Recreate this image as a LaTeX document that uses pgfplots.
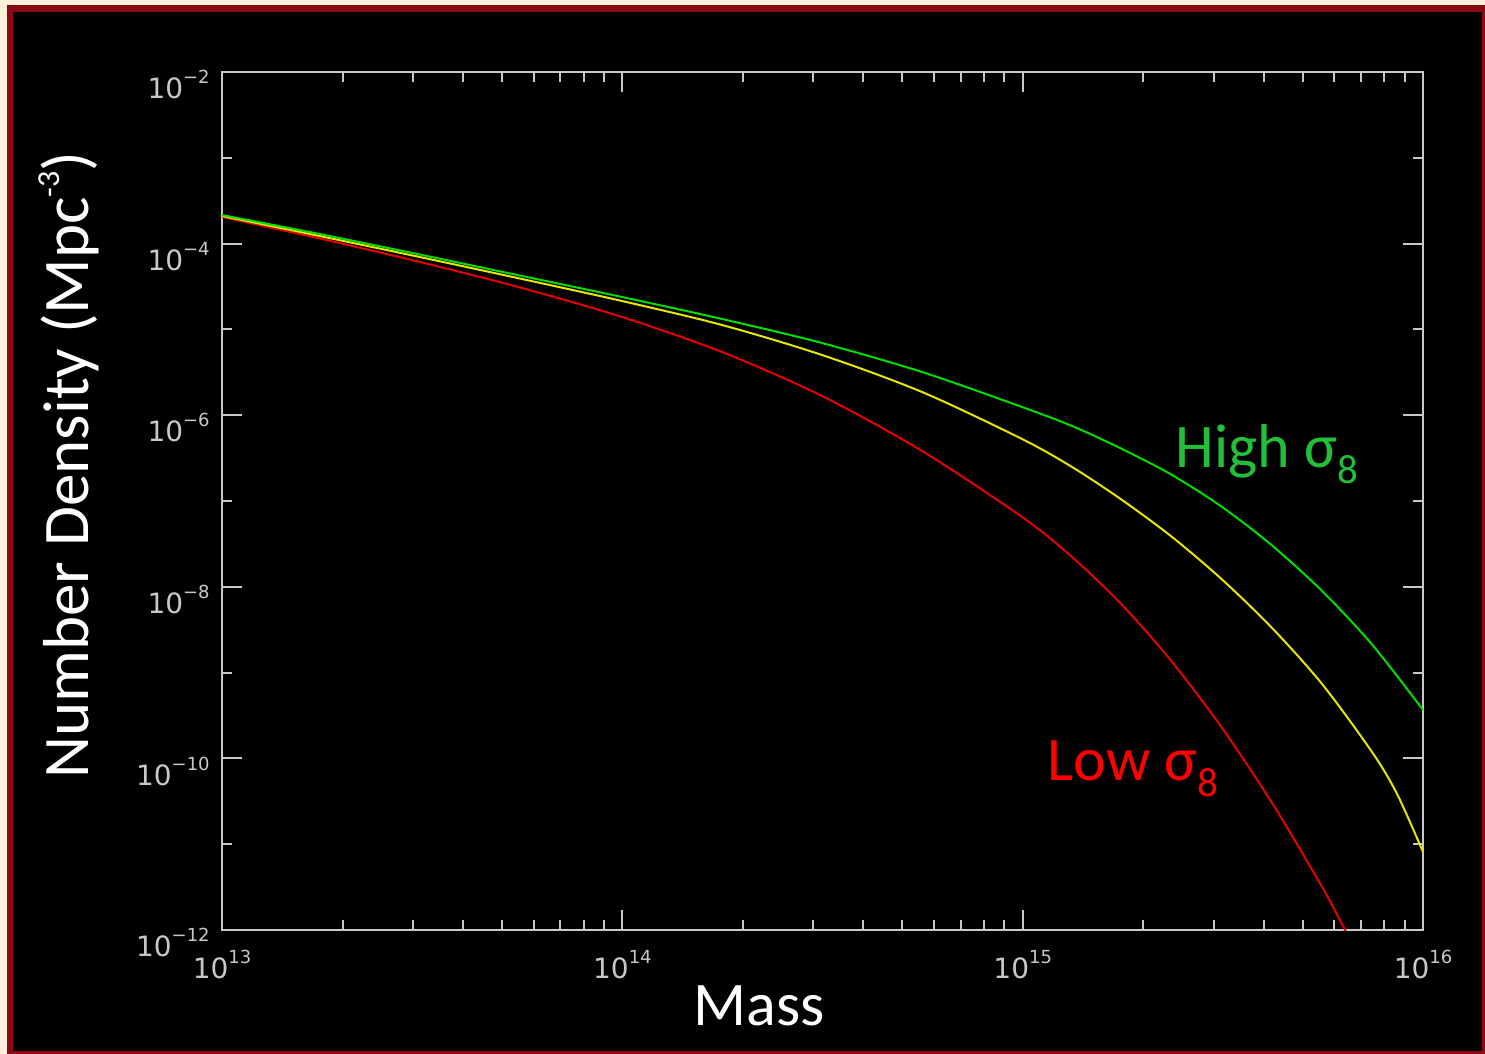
\documentclass[border=0pt]{standalone}
\usepackage{fontspec}
\setmainfont{Carlito}
\newfontfamily\tickfont{DejaVu Sans}
\usepackage{pgfplots}
\usepackage{pgfplotstable}
\pgfplotsset{compat=1.18}
\definecolor{cream}{HTML}{FCF0DA}
\definecolor{frame}{HTML}{8A0A14}
\definecolor{axgray}{HTML}{C8C8C8}
\definecolor{cgreen}{HTML}{00DD00}
\definecolor{cyellow}{HTML}{E6E600}
\definecolor{cred}{HTML}{E60000}
\definecolor{lgreen}{HTML}{22C03A}
\definecolor{lred}{HTML}{FF0000}
\newcommand\tlab[1]{{\tickfont\fontsize{14}{15}\selectfont 10\raisebox{7.5pt}{\fontsize{9}{9}\selectfont #1}}}

\pgfplotstableread{
x y
1e13 2.154e-4
1.777e13 1.277e-4
3.159e13 7.365e-5
5.615e13 4.193e-5
9.980e13 2.385e-5
1.774e14 1.322e-5
3.153e14 6.941e-6
5.604e14 3.188e-6
9.961e14 1.246e-6
1.328e15 7.484e-7
1.771e15 4.037e-7
2.361e15 2.009e-7
3.147e15 8.513e-8
4.196e15 3.029e-8
5.594e15 8.934e-9
7.457e15 2.126e-9
1e16 3.665e-10
}\greentab

\pgfplotstableread{
x y
1e13 2.097e-4
1.777e13 1.210e-4
3.159e13 6.887e-5
5.615e13 3.868e-5
9.980e13 2.143e-5
1.774e14 1.125e-5
3.153e14 5.030e-6
5.604e14 1.864e-6
9.961e14 5.279e-7
1.328e15 2.490e-7
1.771e15 1.027e-7
2.361e15 3.806e-8
3.147e15 1.216e-8
4.196e15 3.310e-9
5.594e15 7.365e-10
7.457e15 1.187e-10
8.612e15 3.847e-11
1e16 8.111e-12
}\yellowtab

\pgfplotstableread{
x y
1e13 2.042e-4
1.777e13 1.131e-4
3.159e13 6.022e-5
5.615e13 3.037e-5
9.980e13 1.395e-5
1.774e14 5.452e-6
3.153e14 1.674e-6
5.604e14 3.826e-7
9.961e14 6.509e-8
1.328e15 2.225e-8
1.771e15 6.137e-9
2.361e15 1.329e-9
3.147e15 2.261e-10
4.196e15 3.021e-11
5.594e15 3.171e-12
6.387e15 1.000e-12
7.166e15 3.607e-13
}\redtab

\begin{document}
\begin{tikzpicture}
\fill[cream] (-111pt,-62pt) rectangle (631.5pt,465pt);
\fill[frame] (-107.5pt,-62pt) rectangle (631.5pt,462.5pt);
\fill[black] (-104.5pt,-60.5pt) rectangle (630pt,459pt);
\begin{axis}[
  at={(0pt,0pt)}, anchor=south west,
  xmode=log, ymode=log,
  scale only axis, width=600.5pt, height=429pt,
  xmin=1e13, xmax=1e16, ymin=1e-12, ymax=1e-2,
  xtick={1e13,1e14,1e15,1e16},
  xticklabels={\tlab{13},\tlab{14},\tlab{15},\tlab{16}},
  minor xtick={2e13,3e13,4e13,5e13,6e13,7e13,8e13,9e13,2e14,3e14,4e14,5e14,6e14,7e14,8e14,9e14,2e15,3e15,4e15,5e15,6e15,7e15,8e15,9e15},
  ytick={1e-12,1e-10,1e-8,1e-6,1e-4,1e-2},
  yticklabels={\tlab{−12},\tlab{−10},\tlab{−8},\tlab{−6},\tlab{−4},\tlab{−2}},
  minor ytick={1e-11,1e-9,1e-7,1e-5,1e-3},
  axis line style={axgray, line width=1pt},
  tick style={axgray, line width=1pt},
  major tick length=10pt, minor tick length=5pt,
  tick align=inside,
  xticklabel style={anchor=north, inner sep=0pt, yshift=-10pt, axgray},
  yticklabel style={anchor=north east, inner sep=0pt, xshift=-6pt, yshift=1pt, axgray},
  xlabel={Mass},
  ylabel={Number Density (Mpc\raisebox{14.5pt}{\fontsize{16}{16}\selectfont -3})},
  xlabel style={at={(axis description cs:0.447,0)}, anchor=base, yshift=-47.5pt, white, font=\fontsize{31}{31}\selectfont, inner sep=0pt},
  ylabel style={at={(axis description cs:-0.1278,0.542)}, anchor=center, white, font=\fontsize{32.5}{33}\selectfont, inner sep=0pt},
]
\addplot[cred, line width=1pt, smooth] table[x=x,y=y] {\redtab};
\addplot[cyellow, line width=1pt, smooth] table[x=x,y=y] {\yellowtab};
\addplot[cgreen, line width=1pt, smooth] table[x=x,y=y] {\greentab};
\node[anchor=base west, lgreen, font=\fontsize{31}{31}\selectfont, inner sep=0pt] at (rel axis cs:0.7935,0.5396) {High σ\raisebox{-8pt}{\fontsize{20.5}{20}\selectfont 8}};
\node[anchor=base west, lred, font=\fontsize{31}{31}\selectfont, inner sep=0pt] at (rel axis cs:0.687,0.1748) {Low σ\raisebox{-8pt}{\fontsize{20.5}{20}\selectfont 8}};
\end{axis}
\end{tikzpicture}
\end{document}
